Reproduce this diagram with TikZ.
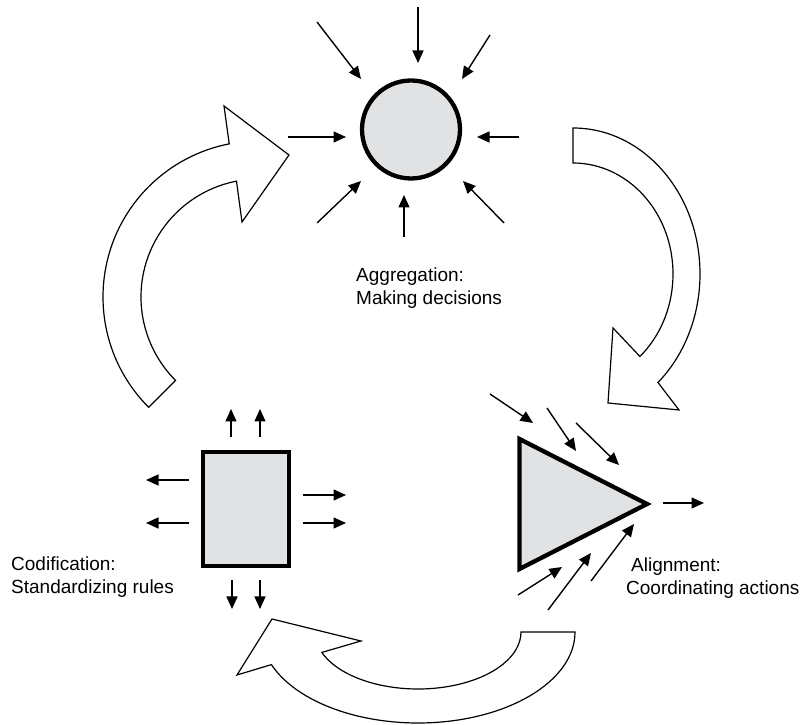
\documentclass[tikz,border=0pt]{standalone}
\usepackage{fontspec}
\setmainfont{Liberation Sans}
\usetikzlibrary{arrows.meta, calc}
\definecolor{stagegray}{RGB}{225,226,228}
\tikzset{
    stage node/.style={draw, line width=4.3pt, fill=stagegray, inner sep=0pt},
    flow arrow/.style={line width=1.4pt, -{Triangle[length=12.5pt, width=11pt]}},
    cycle arrow/.style={draw, line width=1.2pt, fill=white, line join=miter},
    stage label/.style={align=left, anchor=west, inner sep=0pt, font=\fontsize{19}{22.5}\selectfont},
}

\begin{document}
\begin{tikzpicture}[x=1pt, y=1pt]
    \useasboundingbox (0,0) rectangle (803,725);
    % big cycle arrows
    \coordinate (lc) at (259,428);
    \coordinate (rc) at (573,451);
    \coordinate (bc) at (418,93);
    \path[cycle arrow] ($(lc)+(225:156)$) arc[start angle=225, end angle=101, radius=156pt]
        -- (224,619) -- (289,570) -- (242,503)
        -- ($(lc)+(101:118)$) arc[start angle=101, end angle=225, radius=118pt] -- cycle;
    \path[cycle arrow] ($(rc)+(90:127 and 146)$) arc[start angle=90, end angle=-48, x radius=127pt, y radius=146pt]
        -- (679,315) -- (608,322) -- (613,397)
        -- ($(rc)+(-48:100 and 111)$) arc[start angle=-48, end angle=90, x radius=100pt, y radius=111pt] -- cycle;
    \path[cycle arrow] ($(bc)+(0:157 and 91)$) arc[start angle=0, end angle=-159, x radius=157pt, y radius=91pt]
        -- (237,50) -- (272,106) -- (361,84)
        -- ($(bc)+(-159:103 and 57)$) arc[start angle=-159, end angle=0, x radius=103pt, y radius=57pt] -- cycle;

    % aggregation
    \node[stage node, circle, minimum size=98pt] (agg) at (411,595.5) {};
    \foreach \xa/\ya/\xb/\yb in {7/122.5/7/66.5, -94/107.5/-50/50.5, 79/94.5/51/50.5,
        -123/-7.5/-65/-7.5, 108/-7.5/66/-7.5, -94/-93.5/-50/-51.5,
        -7/-107.5/-7/-65.5, 93/-93.5/52/-51.5}
        \draw[flow arrow] ($(agg)+(\xa,\ya)$) -- ($(agg)+(\xb,\yb)$);
    \node[stage label] (agg label) at (356,437) {Aggregation:\\Making decisions};

    % codification
    \node[stage node, minimum width=86pt, minimum height=114pt] (cod) at (246,216) {};
    \foreach \xa/\ya/\xb/\yb in {-15/72/-15/100, 14/72/14/100, -57/29/-100/29, -57/-14/-100/-14,
        57/14/100/14, 57/-14/100/-14, -14/-71/-14/-100, 14/-71/14/-100}
        \draw[flow arrow] ($(cod)+(\xa,\ya)$) -- ($(cod)+(\xb,\yb)$);
    \node[stage label] (cod label) at (11,148) {Codification:\\Standardizing rules};

    % alignment
    \coordinate (aln) at (584,221);
    \draw[stage node, line join=miter] ($(aln)+(-64.5,65)$) -- ($(aln)+(-64.5,-65)$) -- ($(aln)+(63,0)$) -- cycle;
    \foreach \xa/\ya/\xb/\yb in {-94/110/-51/81, -37/96/-8/53, -8/81/35/39,
        -66/-91/-22/-63, -36/-106/7/-49, 7/-77/50/-20, 79/1/120/1}
        \draw[flow arrow] ($(aln)+(\xa,\ya)$) -- ($(aln)+(\xb,\yb)$);
    \node[stage label] (aln label) at (626,147) {\hspace*{5pt}Alignment:\\Coordinating actions};
\end{tikzpicture}
\end{document}
